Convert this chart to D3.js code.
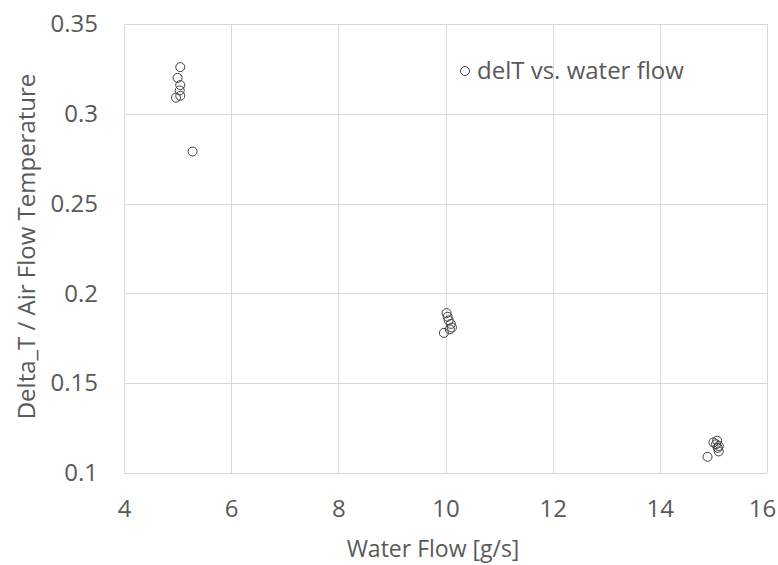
<!DOCTYPE html>
<html>
<head>
<meta charset="utf-8">
<script src="https://cdn.jsdelivr.net/npm/d3@7"></script>
<style>
    body { margin: 0; background: #fff; }
    text { font-family: "Open Sans", "Noto Sans", sans-serif; fill: #595959; }
</style>
</head>
<body>
<svg id="chart" width="778" height="565"></svg>
<script>
// water flow [g/s] and delta_T / air flow temperature
const waterFlow = [5.05, 5.0, 5.05, 5.04, 4.97, 5.05, 5.28,
                   10.02, 10.04, 10.06, 10.1, 10.12, 9.97, 10.08,
                   15.0, 15.07, 15.1, 15.1, 14.89, 15.05, 15.08];
const delT = [0.326, 0.320, 0.316, 0.313, 0.309, 0.310, 0.279,
              0.189, 0.187, 0.185, 0.183, 0.181, 0.178, 0.180,
              0.117, 0.118, 0.115, 0.112, 0.109, 0.116, 0.114];
const xTicks = [4, 6, 8, 10, 12, 14, 16];
const yTicks = [0.1, 0.15, 0.2, 0.25, 0.3, 0.35];
const seriesName = "delT vs. water flow";

const svg = d3.select("#chart");
const margens = { left: 124, right: 11, top: 24, bottom: 92 };
const width = 778, height = 565;

const mapX = d3.scaleLinear().domain([4, 16]).range([margens.left, width - margens.right]);
const mapY = d3.scaleLinear().domain([0.1, 0.35]).range([height - margens.bottom, margens.top]);

// gridlines
svg.append("g")
    .selectAll("line")
    .data(xTicks)
    .enter()
    .append("line")
    .attr("x1", (d) => Math.round(mapX(d)) + 0.5)
    .attr("x2", (d) => Math.round(mapX(d)) + 0.5)
    .attr("y1", mapY(0.35))
    .attr("y2", mapY(0.1))
    .attr("stroke", "#d9d9d9");

svg.append("g")
    .selectAll("line")
    .data(yTicks)
    .enter()
    .append("line")
    .attr("x1", mapX(4))
    .attr("x2", mapX(16))
    .attr("y1", (d) => Math.round(mapY(d)) + 0.5)
    .attr("y2", (d) => Math.round(mapY(d)) + 0.5)
    .attr("stroke", "#d9d9d9");

// tick labels
const xAxis = d3.axisBottom(mapX).tickValues(xTicks).tickSize(0).tickPadding(27).tickFormat(d3.format("d"));
svg.append("g")
    .attr("transform", `translate(0, ${height - margens.bottom})`)
    .call(xAxis)
    .call((g) => g.select(".domain").remove())
    .selectAll("text")
    .style("font-size", "24px")
    .attr("fill", "#595959")
    .attr("dx", (d) => (d === 16 ? -5 : 0));

const yAxis = d3.axisLeft(mapY).tickValues(yTicks).tickSize(0).tickPadding(26).tickFormat((d) => String(+d.toFixed(2)));
svg.append("g")
    .attr("transform", `translate(${margens.left}, 0)`)
    .call(yAxis)
    .call((g) => g.select(".domain").remove())
    .selectAll("text")
    .style("font-size", "24px")
    .attr("fill", "#595959");

// axis titles
svg.append("text")
    .attr("x", 433)
    .attr("y", 557)
    .style("text-anchor", "middle")
    .style("font-size", "23px")
    .text("Water Flow [g/s]");

svg.append("text")
    .attr("transform", `translate(35, ${(mapY(0.1) + mapY(0.35)) / 2 - 2}) rotate(-90)`)
    .style("text-anchor", "middle")
    .style("font-size", "24px")
    .text("Delta_T / Air Flow Temperature");

// points
const points = waterFlow.map((x, i) => ({ x, y: delT[i] }));
svg.append("g")
    .selectAll("circle")
    .data(points)
    .enter()
    .append("circle")
    .attr("cx", (d) => mapX(d.x))
    .attr("cy", (d) => mapY(d.y))
    .attr("r", 4.5)
    .attr("fill", "none")
    .attr("stroke", "#404040")
    .attr("stroke-width", 1);

// legend
const legend = svg.append("g").attr("transform", "translate(465, 71)");
legend.append("circle")
    .attr("r", 4.5)
    .attr("fill", "none")
    .attr("stroke", "#404040");
legend.append("text")
    .attr("x", 12)
    .attr("dy", "0.35em")
    .style("font-size", "24px")
    .text(seriesName);
</script>
</body>
</html>
